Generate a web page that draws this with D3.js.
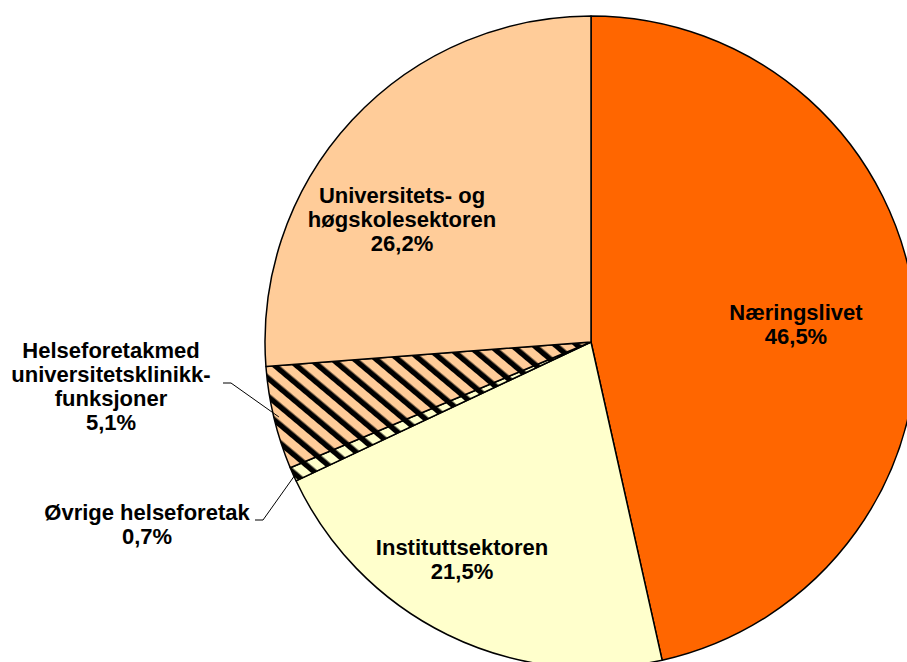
<!DOCTYPE html>
<html>
<head>
<meta charset="utf-8">
<script src="https://cdn.jsdelivr.net/npm/d3@7"></script>
<style>
  body { margin: 0; background: #fff; }
  svg text { font-family: "Liberation Sans", Arial, sans-serif; font-weight: bold; font-size: 22px; fill: #000; }
</style>
</head>
<body>
<svg id="chart" width="907" height="662"></svg>
<script>
// sectors, clockwise from 12 o'clock
const sectors = ['Næringslivet', 'Instituttsektoren', 'Øvrige helseforetak',
  'Helseforetak med universitetsklinikk-funksjoner', 'Universitets- og høgskolesektoren'];
const shares = [46.5, 21.5, 0.7, 5.1, 26.2];
const labelLines = [
  ['Næringslivet'],
  ['Instituttsektoren'],
  ['Øvrige helseforetak'],
  ['Helseforetakmed', 'universitetsklinikk-', 'funksjoner'],
  ['Universitets- og', 'høgskolesektoren']
];

const fills = ['#ff6600', '#ffffcc', 'url(#hatch-yellow)', 'url(#hatch-peach)', '#ffcc99'];

const svg = d3.select('#chart');
const cx = 591, cy = 342, radius = 326;

// diagonal hatch patterns
const defs = svg.append('defs');
[['hatch-yellow', '#ffffcc'], ['hatch-peach', '#ffcc99']].forEach(([id, bg]) => {
  const p = defs.append('pattern')
    .attr('id', id)
    .attr('patternUnits', 'userSpaceOnUse')
    .attr('width', 14).attr('height', 14)
    .attr('patternTransform', 'rotate(-50)');
  p.append('rect').attr('width', 14).attr('height', 14).attr('fill', bg);
  p.append('rect').attr('width', 5.5).attr('height', 14).attr('fill', '#000');
});

const pie = d3.pie().sort(null).value(d => d);
const arcs = pie(shares);
const arc = d3.arc().innerRadius(0).outerRadius(radius);

const g = svg.append('g').attr('transform', `translate(${cx},${cy})`);
g.selectAll('path.slice')
  .data(arcs)
  .join('path')
  .attr('class', 'slice')
  .attr('d', arc)
  .attr('fill', (d, i) => fills[i])
  .attr('stroke', '#000')
  .attr('stroke-width', 1.5)
  .attr('stroke-linejoin', 'round');

// label anchor points (text centre, first baseline) relative to pie centre
const labelAt = [
  [205, -22],
  [-129, 213],
  [-444, 178],
  [-480, 16],
  [-189, -139]
];
const lineH = 24;

const fmt = v => d3.format('.1f')(v).replace('.', ',') + '%';

arcs.forEach((d, i) => {
  const lines = labelLines[i].concat([fmt(shares[i])]);
  const t = g.append('text')
    .attr('text-anchor', 'middle')
    .attr('x', labelAt[i][0])
    .attr('y', labelAt[i][1]);
  lines.forEach((s, k) => {
    t.append('tspan')
      .attr('x', labelAt[i][0])
      .attr('dy', k === 0 ? 0 : lineH)
      .text(s);
  });
});

// leader lines for the two small slices
const leader = (d, r, from) => {
  const a = (d.startAngle + d.endAngle) / 2;
  const px = Math.sin(a) * r, py = -Math.cos(a) * r;
  g.append('polyline')
    .attr('points', [[from[0], from[1]], [from[0] + 8, from[1]], [px, py]].map(p => p.join(',')).join(' '))
    .attr('fill', 'none')
    .attr('stroke', '#000')
    .attr('stroke-width', 1);
};
leader(arcs[2], radius - 4, [-336, 178]);
leader(arcs[3], radius - 5, [-368, 41]);
</script>
</body>
</html>
